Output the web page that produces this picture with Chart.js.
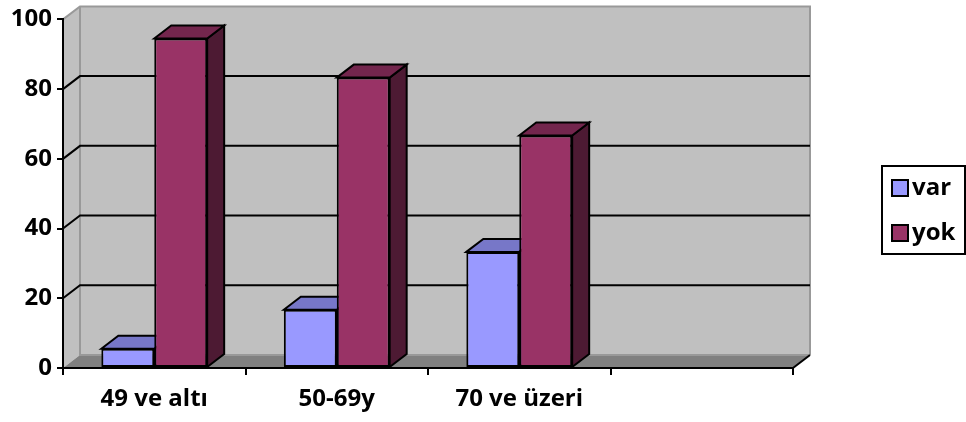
<!DOCTYPE html>
<html>
<head>
<meta charset="utf-8">
<script src="https://cdn.jsdelivr.net/npm/chart.js@4"></script>
<style>
  html, body { margin: 0; padding: 0; background: #ffffff; }
  #wrap { width: 966px; height: 422px; }
</style>
</head>
<body>
<div id="wrap"><canvas id="c" width="966" height="422"></canvas></div>
<script>
// Age groups (the fourth slot is left empty)
const categories = ['49 ve altı', '50-69y', '70 ve üzeri', ''];
// Percentages per group
const varValues = [5.5, 16.7, 33.3, null];
const yokValues = [94.5, 83.3, 66.7, null];
const seriesNames = ['var', 'yok'];
const yTicks = [0, 20, 40, 60, 80, 100];

const FONT = '"Open Sans", Lato, sans-serif';
const DX = 17, DY = -13; // depth offset of the 3D box

const faceColors = [
  { front: '#9999FF', top: '#7777C8', side: '#4D4D80' },
  { front: '#993366', top: '#73264D', side: '#4D1A33' }
];

function poly(ctx, pts, fill, stroke, lw) {
  ctx.beginPath();
  ctx.moveTo(pts[0][0], pts[0][1]);
  for (let i = 1; i < pts.length; i++) ctx.lineTo(pts[i][0], pts[i][1]);
  ctx.closePath();
  if (fill) { ctx.fillStyle = fill; ctx.fill(); }
  if (stroke) { ctx.strokeStyle = stroke; ctx.lineWidth = lw; ctx.stroke(); }
}

// Back wall, side wall, floor and gridlines
const wallsPlugin = {
  id: 'walls',
  beforeDraw(chart) {
    const { ctx, chartArea: a, scales: { y } } = chart;
    ctx.save();
    const l = a.left, r = a.right, t = y.getPixelForValue(100), b = y.getPixelForValue(0);
    // back wall
    poly(ctx, [[l + DX, t + DY], [r + DX, t + DY], [r + DX, b + DY], [l + DX, b + DY]], '#C0C0C0', null);
    // left wall
    poly(ctx, [[l, t], [l + DX, t + DY], [l + DX, b + DY], [l, b]], '#C0C0C0', null);
    // floor
    poly(ctx, [[l, b], [l + DX, b + DY], [r + DX, b + DY], [r, b]], '#808080', null);
    // wall edges
    ctx.strokeStyle = '#999999';
    ctx.lineWidth = 2;
    ctx.beginPath();
    ctx.moveTo(l, t); ctx.lineTo(l + DX, t + DY); ctx.lineTo(r + DX, t + DY); ctx.lineTo(r + DX, b + DY);
    ctx.moveTo(l + DX, t + DY); ctx.lineTo(l + DX, b + DY); ctx.lineTo(r + DX, b + DY);
    ctx.stroke();
    // gridlines
    ctx.strokeStyle = '#000000';
    ctx.lineWidth = 2;
    yTicks.forEach(v => {
      if (v === 0 || v === 100) return;
      const py = y.getPixelForValue(v);
      ctx.beginPath();
      ctx.moveTo(l, py); ctx.lineTo(l + DX, py + DY); ctx.lineTo(r + DX, py + DY);
      ctx.stroke();
    });
    // floor right edge
    ctx.beginPath();
    ctx.moveTo(r, b); ctx.lineTo(r + DX, b + DY);
    ctx.stroke();
    ctx.restore();
  }
};

// Top and side faces of each bar
const boxPlugin = {
  id: 'boxes',
  beforeDatasetsDraw(chart) {
    const ctx = chart.ctx;
    ctx.save();
    ctx.lineJoin = 'miter';
    chart.data.datasets.forEach((ds, di) => {
      const meta = chart.getDatasetMeta(di);
      const c = faceColors[di];
      meta.data.forEach((bar, i) => {
        if (ds.data[i] == null) return;
        const p = bar.getProps(['x', 'y', 'base', 'width'], true);
        const x0 = p.x - p.width / 2, x1 = p.x + p.width / 2;
        poly(ctx, [[x1, p.y], [x1 + DX, p.y + DY], [x1 + DX, p.base + DY], [x1, p.base]], c.side, '#000', 2);
        poly(ctx, [[x0, p.y], [x0 + DX, p.y + DY], [x1 + DX, p.y + DY], [x1, p.y]], c.top, '#000', 2);
      });
    });
    ctx.restore();
  }
};

// Boxed legend at the right
const legendPlugin = {
  id: 'boxLegend',
  afterDraw(chart) {
    const ctx = chart.ctx;
    ctx.save();
    ctx.strokeStyle = '#000';
    ctx.lineWidth = 2;
    ctx.strokeRect(882, 166, 83, 88);
    ctx.font = 'bold 24px ' + FONT;
    ctx.textBaseline = 'middle';
    chart.data.datasets.forEach((ds, i) => {
      const yc = 188 + i * 45;
      ctx.fillStyle = ds.backgroundColor;
      ctx.fillRect(892, yc - 8, 16, 16);
      ctx.lineWidth = 2;
      ctx.strokeRect(892, yc - 8, 16, 16);
      ctx.fillStyle = '#000';
      ctx.fillText(ds.label, 912, yc);
    });
    ctx.restore();
  }
};

new Chart(document.getElementById('c'), {
  type: 'bar',
  data: {
    labels: categories,
    datasets: [
      { label: seriesNames[0], data: varValues, backgroundColor: faceColors[0].front },
      { label: seriesNames[1], data: yokValues, backgroundColor: faceColors[1].front }
    ]
  },
  options: {
    responsive: false,
    animation: false,
    events: [],
    layout: { padding: { top: 18, right: 173, left: 0, bottom: 0 } },
    datasets: {
      bar: {
        borderColor: '#000000',
        borderWidth: 2,
        borderSkipped: false,
        categoryPercentage: 0.58,
        barPercentage: 1.0
      }
    },
    plugins: { legend: { display: false }, tooltip: { enabled: false } },
    scales: {
      x: {
        grid: { offset: true, drawOnChartArea: false, color: '#000', lineWidth: 2, tickLength: 7 },
        border: { display: true, color: '#000', width: 2 },
        ticks: { color: '#000', font: { family: FONT, size: 24, weight: 'bold' }, padding: 10, maxRotation: 0 },
        afterFit(s) { s.height = 54; }
      },
      y: {
        min: 0, max: 100,
        afterBuildTicks(s) { s.ticks = yTicks.map(v => ({ value: v })); },
        grid: { drawOnChartArea: false, color: '#000', lineWidth: 2, tickLength: 6 },
        border: { display: true, color: '#000', width: 2 },
        ticks: { color: '#000', font: { family: FONT, size: 24, weight: 'bold' }, padding: 5 },
        afterFit(s) { s.width = 63; }
      }
    }
  },
  plugins: [wallsPlugin, boxPlugin, legendPlugin]
});
</script>
</body>
</html>
